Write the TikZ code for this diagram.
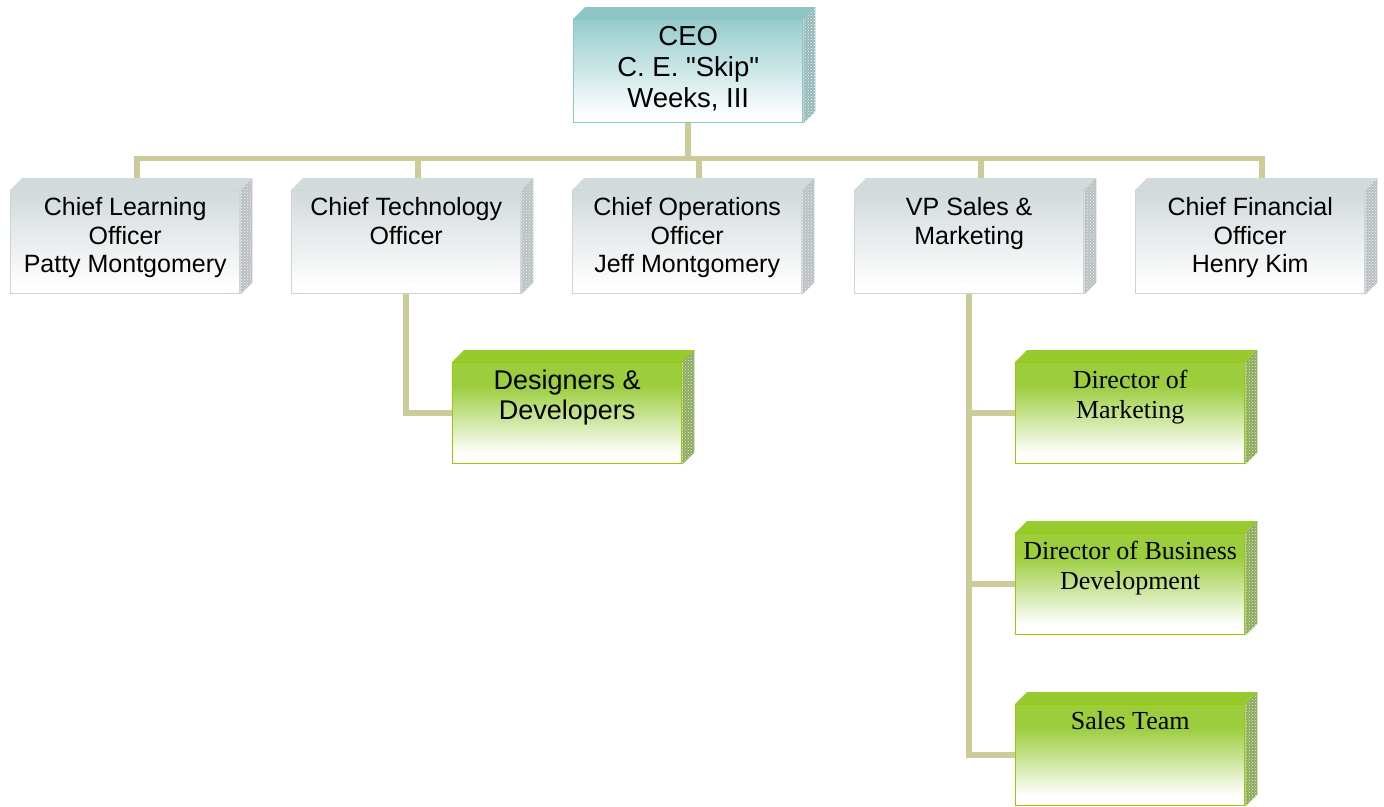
\documentclass[tikz,border=0pt]{standalone}
\usepackage{fontspec}
\setmainfont{Liberation Sans}[Ligatures=TeXOff]
\newfontfamily\serifface{Liberation Serif}
\usetikzlibrary{calc,patterns}

\definecolor{conncol}{RGB}{204,204,153}
\definecolor{tealtop}{RGB}{150,204,204}
\definecolor{tealedge}{RGB}{140,200,200}
\definecolor{tealface}{RGB}{143,196,196}
\definecolor{tealside}{RGB}{150,185,185}
\definecolor{greytop}{RGB}{212,219,221}
\definecolor{greyedge}{RGB}{205,213,215}
\definecolor{greyface}{RGB}{210,218,220}
\definecolor{greyside}{RGB}{185,192,194}
\definecolor{greentop}{RGB}{155,205,60}
\definecolor{greenedge}{RGB}{153,204,0}
\definecolor{greenface}{RGB}{150,202,45}
\definecolor{greenside}{RGB}{140,170,90}

\pgfdeclareverticalshading{tealshade}{100bp}{color(0bp)=(white); color(28bp)=(white); color(75bp)=(tealtop); color(100bp)=(tealtop)}
\pgfdeclareverticalshading{greyshade}{100bp}{color(0bp)=(white); color(28bp)=(white); color(73bp)=(greytop); color(100bp)=(greytop)}
\pgfdeclareverticalshading{greenshade}{100bp}{color(0bp)=(white); color(30bp)=(white); color(64bp)=(greentop); color(100bp)=(greentop)}

\tikzset{
  conn/.style={draw=conncol, line width=5.5pt, line join=miter},
  tealfront/.style={shading=tealshade, draw=tealedge, line width=1.4pt, inner sep=0pt},
  tealtopface/.style={fill=tealface},
  tealsideface/.style={preaction={fill=tealside}, pattern=crosshatch dots, pattern color=white!85!tealside},
  tealtext/.style={font=\fontsize{27.5}{31}\selectfont, align=center, inner sep=0pt},
  greyfront/.style={shading=greyshade, draw=greyedge, line width=1.4pt, inner sep=0pt},
  greytopface/.style={fill=greyface},
  greysideface/.style={preaction={fill=greyside}, pattern=crosshatch dots, pattern color=white!85!greyside},
  greytext/.style={font=\fontsize{25}{28.5}\selectfont, align=center, inner sep=0pt},
  greenfront/.style={shading=greenshade, draw=greenedge, line width=1.4pt, inner sep=0pt},
  greentopface/.style={fill=greenface},
  greensideface/.style={preaction={fill=greenside}, pattern=crosshatch dots, pattern color=white!80!greenside},
  greentext/.style={font=\fontsize{27}{30}\selectfont, align=center, inner sep=0pt},
  serifgreentext/.style={font=\serifface\fontsize{26}{30}\selectfont, align=center, inner sep=0pt},
}

% name, x, y, width, height, kind, text style, text
\newcommand{\orgbox}[8]{%
  \node[#6front, minimum width=#4pt, minimum height=#5pt, anchor=north west] (#1) at (#2,#3) {};
  \fill[#6topface] (#1.north west) -- ++(12,-12) -- ($(#1.north east)+(12,-12)$) -- (#1.north east) -- cycle;
  \path[#6sideface] (#1.north east) -- ++(12,-12) -- ($(#1.south east)+(12,-12)$) -- (#1.south east) -- cycle;
  \coordinate (#1-top) at ($(#1.north)+(12,-12)$);
  \node[#7, anchor=north] (#1-t) at ($(#1.north)+(0,7.5)$) {#8};
}

\begin{document}
\begin{tikzpicture}[x=1pt,y=-1pt]
\useasboundingbox (0,0) rectangle (1384,806);

\orgbox{ceo}{573}{19}{229}{103}{teal}{tealtext}{CEO\\C. E. "Skip"\\Weeks, III}

\orgbox{clo}{10}{190}{229}{103}{grey}{greytext}{Chief Learning\\Officer\\Patty Montgomery}
\orgbox{cto}{291}{190}{229}{103}{grey}{greytext}{Chief Technology\\Officer}
\orgbox{coo}{572}{190}{229}{103}{grey}{greytext}{Chief Operations\\Officer\\Jeff Montgomery}
\orgbox{vp}{854}{190}{229}{103}{grey}{greytext}{VP Sales \&\\Marketing}
\orgbox{cfo}{1135}{190}{229}{103}{grey}{greytext}{Chief Financial\\Officer\\Henry Kim}

\orgbox{des}{452}{362}{229}{101}{green}{greentext}{Designers \&\\Developers}
\orgbox{dm}{1015}{362}{229}{101}{green}{serifgreentext}{Director of\\Marketing}
\orgbox{dbd}{1015}{533}{229}{101}{green}{serifgreentext}{Director of Business\\Development}
\orgbox{st}{1015}{704}{229}{101}{green}{serifgreentext}{Sales Team}

\draw[conn] (ceo.south) -- ++(0,35) -| (clo-top);
\draw[conn] (ceo.south) -- ++(0,35) -| (cto-top);
\draw[conn] (ceo.south) -- ++(0,35) -| (coo-top);
\draw[conn] (ceo.south) -- ++(0,35) -| (vp-top);
\draw[conn] (ceo.south) -- ++(0,35) -| (cfo-top);

\draw[conn] (cto.south) |- (des.west);
\draw[conn] (vp.south) |- (dm.west);
\draw[conn] (vp.south) |- (dbd.west);
\draw[conn] (vp.south) |- (st.west);
\end{tikzpicture}
\end{document}
